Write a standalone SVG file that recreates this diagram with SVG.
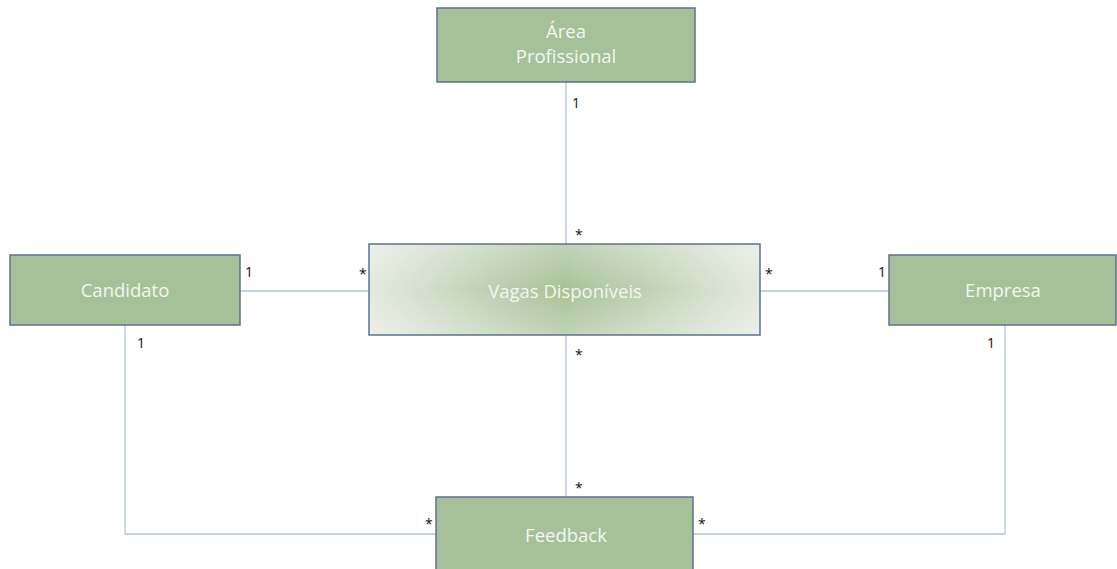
<svg xmlns="http://www.w3.org/2000/svg" width="1117" height="569" viewBox="0 0 1117 569">
  <style>
    .box { fill: #a6c199; stroke: #5c7290; stroke-width: 1.5; }
    .lbl { font-family: "Open Sans", "Liberation Sans", sans-serif; font-size: 18.5px; fill: #f4f6f0; text-anchor: middle; }
    .mult { font-family: "Open Sans", "Liberation Sans", sans-serif; font-size: 14px; fill: #111111; }
    .conn { fill: none; stroke: #b3c4de; stroke-width: 1.3; }
  </style>
  <defs>
    <!-- soft green centre fading out towards the left and right ends -->
    <linearGradient id="vagasBase" x1="0" y1="0" x2="1" y2="0">
      <stop offset="0" stop-color="#e4e9df"/>
      <stop offset="0.12" stop-color="#d6e0cf"/>
      <stop offset="0.32" stop-color="#bccfb0"/>
      <stop offset="0.5" stop-color="#a8c197"/>
      <stop offset="0.68" stop-color="#bccfb0"/>
      <stop offset="0.88" stop-color="#d6e0cf"/>
      <stop offset="1" stop-color="#e4e9df"/>
    </linearGradient>
    <!-- slight lightening along the top and bottom edges -->
    <linearGradient id="vagasHaze" x1="0" y1="0" x2="0" y2="1">
      <stop offset="0" stop-color="#ffffff" stop-opacity="0.3"/>
      <stop offset="0.5" stop-color="#ffffff" stop-opacity="0"/>
      <stop offset="1" stop-color="#ffffff" stop-opacity="0.3"/>
    </linearGradient>
  </defs>
  <rect width="1117" height="569" fill="#ffffff"/>

  <g id="connectors">
    <line class="conn" x1="566" y1="82" x2="566" y2="244"/>
    <line class="conn" x1="240" y1="291" x2="369" y2="291"/>
    <line class="conn" x1="760" y1="291" x2="889" y2="291"/>
    <line class="conn" x1="566" y1="335" x2="566" y2="497"/>
    <polyline class="conn" points="125,325 125,534 436,534"/>
    <polyline class="conn" points="1005,325 1005,534 693,534"/>
  </g>

  <g id="multiplicities">
    <text class="mult" x="572" y="108">1</text>
    <text class="mult" x="575" y="240">*</text>
    <text class="mult" x="245" y="277">1</text>
    <text class="mult" x="359" y="279">*</text>
    <text class="mult" x="765" y="279">*</text>
    <text class="mult" x="878" y="277">1</text>
    <text class="mult" x="137" y="348">1</text>
    <text class="mult" x="575" y="360">*</text>
    <text class="mult" x="987" y="348">1</text>
    <text class="mult" x="575" y="493">*</text>
    <text class="mult" x="425" y="529">*</text>
    <text class="mult" x="698" y="529">*</text>
  </g>

  <g id="area-profissional">
    <rect class="box" x="437" y="8" width="258" height="74"/>
    <text class="lbl" x="566" y="38">Área</text>
    <text class="lbl" x="566" y="63">Profissional</text>
  </g>

  <g id="vagas-disponiveis">
    <rect x="369" y="244" width="391" height="91" fill="url(#vagasBase)"/>
    <rect x="369" y="244" width="391" height="91" fill="url(#vagasHaze)" stroke="#5c7290" stroke-width="1.5"/>
    <text class="lbl" x="565" y="298">Vagas Disponíveis</text>
  </g>

  <g id="candidato">
    <rect class="box" x="10" y="255" width="230" height="70"/>
    <text class="lbl" x="125" y="297">Candidato</text>
  </g>

  <g id="empresa">
    <rect class="box" x="889" y="255" width="227" height="70"/>
    <text class="lbl" x="1003" y="297">Empresa</text>
  </g>

  <g id="feedback">
    <rect class="box" x="436" y="497" width="257" height="80"/>
    <text class="lbl" x="566" y="542">Feedback</text>
  </g>
</svg>
